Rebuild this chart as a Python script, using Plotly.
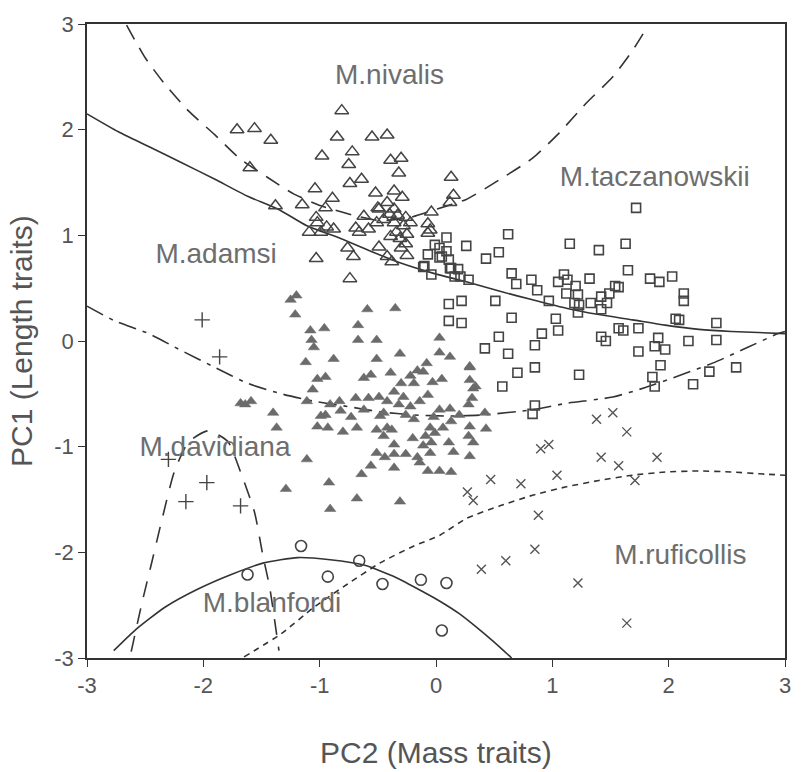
import plotly.graph_objects as go

# ---------------- data ----------------
nivalis_x = [-0.81,-1.71,-1.56,-1.42,-0.85,-0.55,-0.42,-0.98,-0.72,-0.75,-0.39,-0.30,-0.32,-1.60,-0.74,-0.64,
             -1.04,-0.52,-0.36,-0.29,-1.38,-1.15,-0.89,-0.95,-1.03,-0.50,-0.42,-0.49,-0.62,-0.36,-0.33,-0.26,
             -0.36,-0.28,-0.34,-0.25,-0.39,-0.31,-0.26,-0.25,-0.51,-0.69,-0.58,-0.66,-1.09,-0.99,-0.88,-1.02,
             -0.94,-0.49,-0.76,-0.71,-1.03,-0.42,-0.38,-0.74,0.13,0.15,0.12,-0.04,-0.07,-0.05,-0.07,-0.30,
             -0.22,-0.40,-0.45]
nivalis_y = [2.18,2.00,2.01,1.90,1.93,1.93,1.95,1.75,1.79,1.67,1.71,1.73,1.59,1.64,1.49,1.53,
             1.44,1.40,1.42,1.36,1.28,1.29,1.35,1.26,1.17,1.26,1.31,1.25,1.18,1.25,1.19,1.17,
             1.12,1.09,1.03,1.01,0.99,0.97,0.92,0.81,1.12,1.07,1.06,1.03,1.03,1.03,1.06,1.12,
             1.08,0.89,0.88,0.80,0.78,0.80,0.75,0.59,1.55,1.38,1.31,1.22,1.11,1.05,1.02,0.88,
             1.12,1.20,1.15]

tacz_x = [1.72,0.62,1.15,1.40,1.63,0.26,0.09,-0.01,0.03,0.09,0.11,-0.07,0.03,0.54,0.43,-0.10,-0.04,0.13,0.19,
          0.16,0.28,0.65,0.69,0.82,0.87,1.05,1.10,1.13,1.12,1.20,1.22,1.19,1.23,1.22,1.33,1.42,1.42,1.47,
          1.49,1.54,1.32,0.97,0.51,0.11,0.22,0.11,0.22,0.65,1.03,1.05,0.54,0.91,0.85,0.42,0.62,1.42,1.46,
          1.57,0.70,0.85,1.23,0.57,0.85,0.83,1.65,1.84,1.92,2.03,1.57,2.13,2.13,2.06,2.09,2.41,2.41,2.17,
          1.61,1.74,1.91,1.88,1.97,1.74,1.93,2.58,2.35,1.86,1.88,2.21,0.05,0.12,0.21,-0.11]
tacz_y = [1.26,1.01,0.92,0.86,0.92,0.90,0.98,0.91,0.88,0.85,0.77,0.82,0.79,0.84,0.78,0.71,0.63,0.69,0.68,
          0.61,0.58,0.64,0.54,0.58,0.48,0.56,0.63,0.58,0.45,0.52,0.44,0.36,0.34,0.27,0.36,0.30,0.42,0.36,
          0.45,0.52,0.59,0.38,0.38,0.35,0.38,0.19,0.17,0.22,0.21,0.10,0.04,0.07,-0.04,-0.07,-0.12,0.04,0.00,
          0.12,-0.30,-0.25,-0.32,-0.43,-0.61,-0.69,0.67,0.59,0.56,0.61,0.51,0.45,0.38,0.21,0.20,0.17,0.01,0.00,
          0.10,0.12,0.03,-0.05,-0.08,-0.10,-0.23,-0.25,-0.29,-0.34,-0.43,-0.41,0.80,0.69,0.61,0.70]

adamsi_x = [-1.25,-1.20,-1.21,-0.59,-0.35,-1.08,-0.96,-1.07,-1.05,-0.67,-0.67,-0.51,0.03,0.03,0.12,-1.12,-0.88,
            -0.51,-0.31,-0.08,0.29,-1.02,-0.95,-1.06,-0.56,-0.39,-0.22,-0.16,-0.11,-0.19,-0.03,0.05,0.29,0.32,
            -1.11,-0.91,-0.83,-0.69,-0.58,-0.49,-0.42,-0.36,-0.28,-0.32,-0.22,-0.26,-0.14,-0.07,0.03,0.12,-0.19,
            0.28,0.31,-0.62,-0.99,-0.95,-1.02,-0.93,-1.40,-1.37,-1.68,-1.59,-0.80,-0.68,-0.48,-0.45,-0.51,-0.42,
            -0.38,-0.45,-0.36,-0.51,-0.44,-0.36,-0.26,-0.09,-0.05,-0.01,-0.04,-0.11,-0.05,0.06,0.13,0.11,0.29,
            0.28,0.32,0.29,-1.11,-0.14,-0.07,-0.36,-0.56,-0.64,0.13,-1.29,-0.92,-0.91,-0.68,-0.31,0.42,0.43,
            0.29,0.34,-1.64,-0.82,-0.30,-0.62,-0.20,-0.02,0.20,-0.73,0.15,-0.16,0.03]
adamsi_y = [0.39,0.43,0.25,0.30,0.31,0.10,0.12,0.01,-0.06,0.15,0.01,0.01,0.03,-0.11,-0.15,-0.20,-0.17,
            -0.17,-0.12,-0.21,-0.25,-0.36,-0.34,-0.46,-0.32,-0.30,-0.33,-0.28,-0.29,-0.40,-0.39,-0.36,-0.37,-0.45,
            -0.57,-0.60,-0.57,-0.54,-0.54,-0.53,-0.57,-0.48,-0.53,-0.60,-0.62,-0.70,-0.57,-0.51,-0.65,-0.64,-0.74,
            -0.60,-0.54,-0.65,-0.71,-0.70,-0.81,-0.82,-0.68,-0.82,-0.59,-0.57,-0.86,-0.82,-0.71,-0.68,-0.84,-0.82,
            -0.84,-0.90,-0.98,-1.06,-1.10,-1.07,-1.07,-0.90,-0.82,-0.87,-0.96,-0.99,-1.06,-0.82,-0.76,-0.96,-0.81,
            -0.90,-0.96,-1.09,-1.12,-1.15,-1.23,-1.20,-1.18,-1.26,-1.24,-1.40,-1.34,-1.59,-1.49,-1.52,-0.68,-0.83,
            -0.24,-0.43,-0.60,-0.66,-0.40,-0.35,-0.92,-0.72,-0.70,-0.72,-1.05,-1.10,-1.23]

rufi_x = [1.64,0.90,0.97,1.42,1.57,1.90,1.71,0.47,0.73,1.04,0.27,0.32,0.88,0.85,0.60,0.39,1.22,1.64,1.38,1.52]
rufi_y = [-0.86,-1.02,-0.98,-1.10,-1.18,-1.10,-1.32,-1.31,-1.35,-1.27,-1.43,-1.51,-1.65,-1.97,-2.08,-2.16,
          -2.29,-2.67,-0.74,-0.68]

david_x = [-2.01,-1.86,-2.30,-1.97,-2.15,-1.68]
david_y = [0.20,-0.15,-1.12,-1.34,-1.52,-1.56]

blan_x = [-1.16,-1.62,-0.93,-0.66,-0.46,-0.13,0.09,0.05]
blan_y = [-1.94,-2.21,-2.23,-2.08,-2.30,-2.26,-2.29,-2.74]

# boundary curves
b_main_x = [-3.0,-2.73,-2.47,-2.19,-1.90,-1.62,-1.36,-1.11,-0.82,-0.54,-0.31,-0.02,0.26,0.55,0.83,1.12,1.40,
            1.69,1.97,2.26,2.54,2.77,3.0]
b_main_y = [2.15,1.98,1.84,1.69,1.53,1.37,1.25,1.09,0.97,0.84,0.74,0.64,0.56,0.47,0.39,0.31,0.25,
            0.20,0.15,0.11,0.09,0.08,0.07]

b_niv_x = [-2.66,-2.50,-2.33,-2.13,-1.90,-1.68,-1.45,-1.22,-0.99,-0.71,-0.48,-0.22,0.01,0.26,0.55,0.83,1.06,
           1.29,1.52,1.69,1.81]
b_niv_y = [2.99,2.68,2.43,2.18,1.95,1.72,1.55,1.39,1.28,1.19,1.14,1.17,1.25,1.34,1.53,1.73,1.97,
           2.25,2.50,2.75,2.96]

b_adm_x = [-3.0,-2.76,-2.47,-2.19,-1.90,-1.62,-1.33,-1.05,-0.76,-0.48,-0.19,0.12,0.40,0.83,1.12,1.52,1.80,
           2.11,2.40,2.68,2.94,3.0]
b_adm_y = [0.33,0.19,0.07,-0.09,-0.25,-0.40,-0.50,-0.57,-0.62,-0.67,-0.70,-0.71,-0.70,-0.65,-0.59,-0.53,-0.44,
           -0.32,-0.20,-0.06,0.07,0.09]

b_ruf_x = [-1.65,-1.33,-1.05,-0.76,-0.48,-0.19,0.03,0.26,0.55,0.83,1.12,1.40,1.69,1.97,2.26,2.54,2.83,3.0]
b_ruf_y = [-2.99,-2.77,-2.52,-2.30,-2.10,-1.94,-1.84,-1.68,-1.56,-1.46,-1.38,-1.32,-1.27,-1.24,-1.23,-1.24,
           -1.26,-1.27]

b_blan_x = [-2.77,-2.59,-2.33,-2.05,-1.76,-1.48,-1.19,-0.91,-0.62,-0.34,-0.10,0.03,0.20,0.35,0.50,0.65]
b_blan_y = [-2.93,-2.74,-2.52,-2.35,-2.21,-2.10,-2.05,-2.07,-2.12,-2.24,-2.38,-2.46,-2.58,-2.71,-2.85,-3.0]

b_dav_x = [-2.62,-2.53,-2.44,-2.36,-2.25,-2.13,-1.96,-1.79,-1.68,-1.56,-1.49,-1.43,-1.35]
b_dav_y = [-2.94,-2.49,-2.08,-1.71,-1.24,-0.96,-0.85,-0.95,-1.24,-1.62,-2.02,-2.33,-2.93]

label_text = ["M.nivalis", "M.taczanowskii", "M.adamsi", "M.davidiana", "M.blanfordi", "M.ruficollis"]
label_x = [-0.40, 1.88, -1.89, -1.90, -1.41, 2.10]
label_y = [2.50, 1.53, 0.80, -1.02, -2.50, -2.04]

ticks = [-3, -2, -1, 0, 1, 2, 3]

# ---------------- figure ----------------
FONT = "Liberation Sans, Arial, Helvetica, sans-serif"
LINE = "#333333"
fig = go.Figure()

def line(x, y, dash, w=1.6):
    fig.add_trace(go.Scatter(x=x, y=y, mode="lines", line=dict(color=LINE, width=w, dash=dash,
                                                               shape="spline", smoothing=0.6),
                             hoverinfo="skip"))

line(b_main_x, b_main_y, "solid")
line(b_niv_x, b_niv_y, "16px,10px")
line(b_adm_x, b_adm_y, "18px,7px,4px,7px")
line(b_ruf_x, b_ruf_y, "6px,5px")
line(b_blan_x, b_blan_y, "solid")
line(b_dav_x, b_dav_y, "16px,12px")

def pts(x, y, symbol, size, color, lw=1.5):
    fig.add_trace(go.Scatter(x=x, y=y, mode="markers",
                             marker=dict(symbol=symbol, size=size, color=color,
                                         line=dict(color=color, width=lw))))

pts(adamsi_x, adamsi_y, "triangle-up", 10, "#6b6b6b", 0.5)
pts(nivalis_x, nivalis_y, "triangle-up-open", 12, "#444444", 1.5)
pts(tacz_x, tacz_y, "square-open", 9, "#444444", 1.6)
pts(rufi_x, rufi_y, "x-thin-open", 9, "#555555", 1.4)
pts(david_x, david_y, "cross-thin-open", 11, "#444444", 1.4)
pts(blan_x, blan_y, "circle-open", 11, "#444444", 1.6)

fig.add_trace(go.Scatter(x=label_x, y=label_y, mode="text", text=label_text,
                         textfont=dict(family=FONT, size=28, color="#6e6e6e"),
                         textposition="middle center", hoverinfo="skip"))

axis = dict(range=[-3, 3], tickvals=ticks, ticktext=[str(t) for t in ticks], ticks="outside",
            ticklen=7, tickwidth=1.3, tickcolor="#333", showline=True, linecolor="#333",
            linewidth=1.5, mirror=True, showgrid=False, zeroline=False,
            tickfont=dict(family=FONT, size=22, color="#555555"))

fig.update_layout(
    width=803, height=772, margin=dict(l=87, r=13, t=16, b=114),
    paper_bgcolor="white", plot_bgcolor="white", showlegend=False,
    xaxis=axis, yaxis=axis,
    annotations=[
        dict(text="PC2 (Mass traits)", xref="paper", yref="paper", x=0.5, y=0, yanchor="middle",
             yshift=-94, showarrow=False, font=dict(family=FONT, size=30, color="#555555")),
        dict(text="PC1 (Length traits)", xref="paper", yref="paper", x=0, y=0.5, xanchor="center",
             xshift=-66, textangle=-90, showarrow=False, font=dict(family=FONT, size=30, color="#555555")),
    ],
)

fig.write_html("out.html")
